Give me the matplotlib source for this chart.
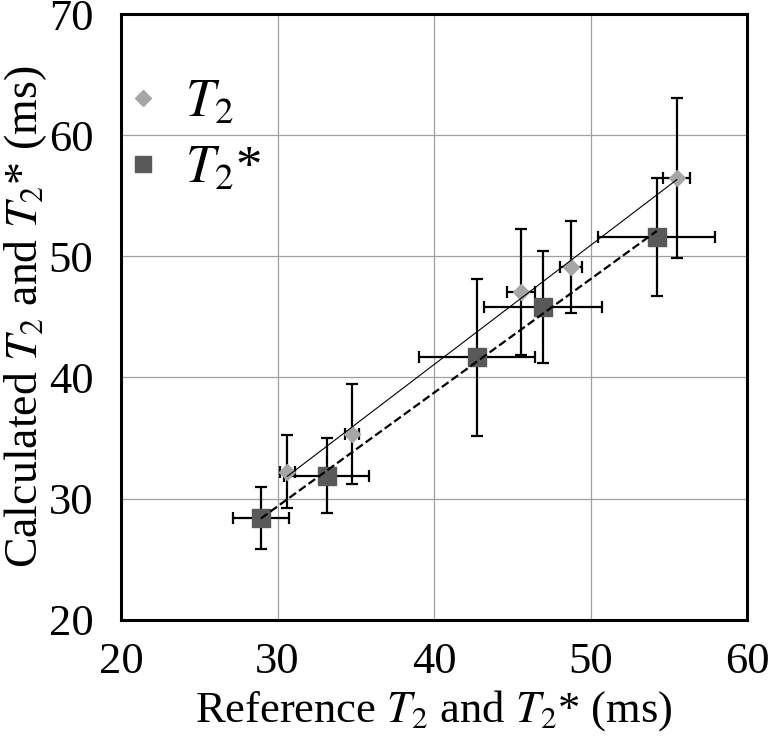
import numpy as np
import matplotlib.pyplot as plt
from matplotlib.lines import Line2D

# T2 (diamonds)
t2_ref = [30.63, 34.74, 45.56, 48.73, 55.51]
t2_calc = [32.24, 35.35, 47.06, 49.13, 56.49]
t2_xerr = [0.48, 0.46, 0.87, 0.69, 0.86]
t2_yerr = [3.0, 4.15, 5.2, 3.8, 6.6]

# T2* (squares)
t2s_ref = [28.93, 33.14, 42.75, 46.98, 54.23]
t2s_calc = [28.39, 31.90, 41.67, 45.83, 51.58]
t2s_xerr = [1.78, 2.73, 3.69, 3.77, 3.75]
t2s_yerr = [2.55, 3.1, 6.5, 4.65, 4.85]

plt.rcParams['font.family'] = 'Liberation Serif'
plt.rcParams['mathtext.fontset'] = 'stix'

light = '#a6a6a6'
dark = '#595959'

fig = plt.figure(figsize=(7.71, 7.37), dpi=100)
ax = fig.add_axes([0.157, 0.159, 0.812, 0.822])

# error bars first, markers on top of them
ax.errorbar(t2_ref, t2_calc, xerr=t2_xerr, yerr=t2_yerr, fmt='none',
            ecolor='black', elinewidth=1.6, capsize=4, capthick=1.6, zorder=2)
ax.errorbar(t2s_ref, t2s_calc, xerr=t2s_xerr, yerr=t2s_yerr, fmt='none',
            ecolor='black', elinewidth=1.6, capsize=4, capthick=1.6, zorder=2)
ax.plot(t2_ref, t2_calc, 'D', color=light, markersize=8, zorder=3)
ax.plot(t2s_ref, t2s_calc, 's', color=dark, markersize=12.5, zorder=3)

# linear trend lines
for xs, ys, ls, lw in [(t2_ref, t2_calc, '-', 0.8), (t2s_ref, t2s_calc, '--', 1.6)]:
    k, b = np.polyfit(xs, ys, 1)
    xx = np.array([min(xs), max(xs)])
    ax.plot(xx, k * xx + b, color='black', linestyle=ls, linewidth=lw, zorder=4)

ax.set_xlim(20, 60)
ax.set_ylim(20, 70)
ax.set_xticks([20, 30, 40, 50, 60])
ax.set_yticks([20, 30, 40, 50, 60, 70])
ax.tick_params(length=0, labelsize=32)
ax.tick_params(axis='x', pad=16)
ax.tick_params(axis='y', pad=20)
ax.grid(True, color='#a0a0a0', linewidth=0.9)
ax.set_axisbelow(True)
for sp in ax.spines.values():
    sp.set_linewidth(2.2)

ax.set_xlabel('Reference $T_2$ and $T_2$* (ms)', fontsize=32, labelpad=4)
ax.set_ylabel('Calculated $T_2$ and $T_2$* (ms)', fontsize=33, labelpad=0)

handles = [Line2D([], [], marker='D', color=light, linestyle='none', markersize=8),
           Line2D([], [], marker='s', color=dark, linestyle='none', markersize=11)]
ax.legend(handles, ['$T_2$', '$T_2$*'], loc='upper left', bbox_to_anchor=(-0.083, 0.97),
          frameon=False, fontsize=38, handletextpad=0.3, labelspacing=0.34,
          handlelength=1.0)

fig.savefig('out.png', dpi=100)
